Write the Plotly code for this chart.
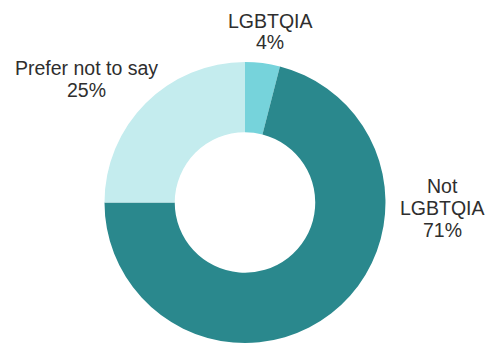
import plotly.graph_objects as go

# Survey responses: LGBTQIA identification
categories = ["LGBTQIA", "Not LGBTQIA", "Prefer not to say"]
label_lines = [["LGBTQIA"], ["Not", "LGBTQIA"], ["Prefer not to say"]]
shares = [4, 71, 25]
colors = ["#76D3DB", "#2A888D", "#C4ECEE"]

W, H = 489, 343

# Caption placement in pixels: centre x, y of first line, line pitch
caption_x = [270, 442.5, 86]
caption_top = [20.5, 186, 68]
line_pitch = 22

fig = go.Figure(
    go.Pie(
        labels=categories,
        values=shares,
        hole=0.5,
        sort=False,
        direction="clockwise",
        rotation=0,
        marker=dict(colors=colors, line=dict(width=0)),
        textinfo="none",
        hoverinfo="label+percent",
        domain=dict(x=[0.2137, 0.7883], y=[0.0, 0.8192]),
    )
)

for lines, val, cx, cy in zip(label_lines, shares, caption_x, caption_top):
    for i, line in enumerate(lines + [f"{val}%"]):
        fig.add_annotation(
            text=line,
            x=cx / W,
            y=1 - (cy + i * line_pitch) / H,
            xref="paper",
            yref="paper",
            xanchor="center",
            yanchor="middle",
            showarrow=False,
            borderpad=0,
            font=dict(family="Liberation Sans", size=19.5, color="#2E2E2E"),
        )

fig.update_layout(
    width=W,
    height=H,
    margin=dict(l=0, r=0, t=0, b=0),
    paper_bgcolor="white",
    plot_bgcolor="white",
    showlegend=False,
)

fig.write_html("out.html")
